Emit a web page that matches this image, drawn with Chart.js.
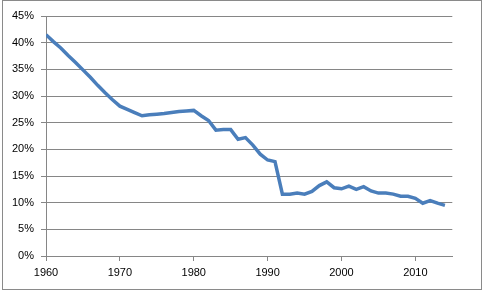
<!DOCTYPE html>
<html>
<head>
<meta charset="utf-8">
<script src="https://cdn.jsdelivr.net/npm/chart.js@4"></script>
<style>
  html, body { margin: 0; padding: 0; background: #fff; }
  #wrap { position: relative; width: 484px; height: 292px; }
  #frame { position: absolute; left: 2px; top: 0px; width: 478px; height: 288px; border: 1px solid #8a8a8a; box-sizing: content-box; pointer-events: none; }
  canvas { position: absolute; left: 0; top: 0; }
</style>
</head>
<body>
<div id="wrap">
  <canvas id="c" width="484" height="292"></canvas>
  <div id="frame"></div>
</div>
<script>
const years = [1960,1961,1962,1963,1964,1965,1966,1967,1968,1969,
               1970,1971,1972,1973,1974,1975,1976,1977,1978,1979,
               1980,1981,1982,1983,1984,1985,1986,1987,1988,1989,
               1990,1991,1992,1993,1994,1995,1996,1997,1998,1999,
               2000,2001,2002,2003,2004,2005,2006,2007,2008,2009,
               2010,2011,2012,2013,2014];
const values = [41.5,40.2,39.0,37.6,36.3,34.9,33.5,32.0,30.6,29.3,
                28.1,27.5,26.9,26.3,26.5,26.6,26.7,26.9,27.1,27.2,
                27.3,26.3,25.4,23.6,23.7,23.7,21.9,22.2,20.8,19.1,
                18.0,17.7,11.6,11.6,11.8,11.6,12.1,13.2,13.9,12.8,
                12.6,13.1,12.5,13.0,12.2,11.8,11.8,11.6,11.2,11.2,
                10.8,9.9,10.4,9.9,9.5];
const xTicks = [1960,1970,1980,1990,2000,2010];
const yTicks = [0,5,10,15,20,25,30,35,40,45];

const points = years.map((y, i) => ({ x: y, y: values[i] }));

new Chart(document.getElementById('c'), {
  type: 'line',
  data: {
    datasets: [{
      data: points,
      borderColor: '#4a7ebb',
      borderWidth: 3.5,
      pointRadius: 0,
      tension: 0,
      fill: false
    }]
  },
  options: {
    responsive: false,
    animation: false,
    devicePixelRatio: 1,
    layout: { padding: { left: 0, top: 16, right: 31.7, bottom: 0 } },
    plugins: { legend: { display: false }, tooltip: { enabled: false } },
    scales: {
      x: {
        type: 'linear',
        min: 1960,
        max: 2015,
        afterBuildTicks: (s) => { s.ticks = xTicks.map(v => ({ value: v })); },
        afterFit: (s) => { s.height = 36; },
        ticks: {
          color: '#000',
          font: { family: 'Liberation Sans', size: 11 },
          padding: 5,
          maxRotation: 0,
          autoSkip: false,
          callback: (v) => String(v)
        },
        grid: { drawOnChartArea: false, drawTicks: true, tickLength: 5, color: '#868686' },
        border: { display: true, color: '#868686', width: 1 }
      },
      y: {
        min: 0,
        max: 45,
        afterBuildTicks: (s) => { s.ticks = yTicks.map(v => ({ value: v })); },
        afterFit: (s) => { s.width = 46; },
        ticks: {
          color: '#000',
          font: { family: 'Liberation Sans', size: 11 },
          padding: 7,
          callback: (v) => v + '%'
        },
        grid: { drawOnChartArea: true, drawTicks: true, tickLength: 5, color: '#868686' },
        border: { display: true, color: '#868686', width: 1 }
      }
    }
  }
});
</script>
</body>
</html>
